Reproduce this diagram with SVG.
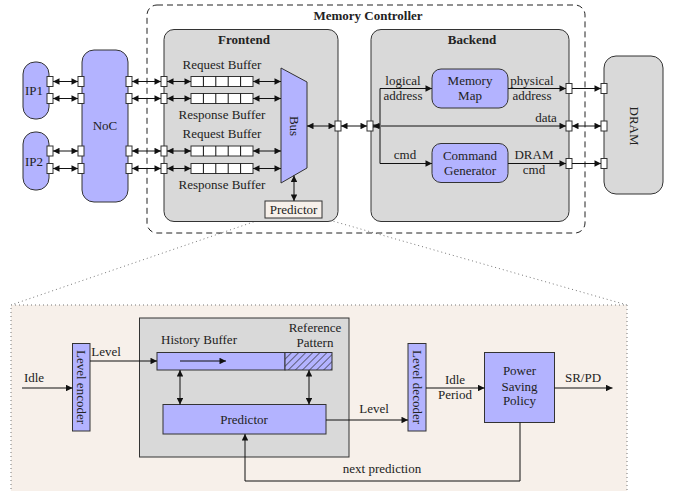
<svg xmlns="http://www.w3.org/2000/svg" width="675" height="491" viewBox="0 0 675 491" font-family="'Liberation Serif', 'Times New Roman', serif">
<defs>
<marker id="ah" viewBox="0 0 10 10" refX="10" refY="5" markerWidth="8" markerHeight="6.5" markerUnits="userSpaceOnUse" orient="auto-start-reverse"><path d="M0,0 L10,5 L0,10 z" fill="#111"/></marker>
<pattern id="hatch" width="5" height="5" patternUnits="userSpaceOnUse" patternTransform="rotate(45)"><rect width="5" height="5" fill="#b3b3ff"/><line x1="0" y1="0" x2="0" y2="5" stroke="#222" stroke-width="1.2"/></pattern>
<style>
text{font-family:"Liberation Serif","Times New Roman",serif;font-size:13px;fill:#222;text-anchor:middle}
.b{font-weight:bold}
.node{fill:#b3b3ff;stroke:#333;stroke-width:1}
.gray{fill:#d9d9d9;stroke:#333;stroke-width:1}
.port{fill:#fff;stroke:#333;stroke-width:1}
.cell{fill:#fff;stroke:#333;stroke-width:1}
.w{stroke:#111;stroke-width:1;fill:none}
.s{stroke:#111;stroke-width:1;fill:none;marker-end:url(#ah)}
.d{stroke:#111;stroke-width:1;fill:none;marker-end:url(#ah);marker-start:url(#ah)}
.dot{stroke:#777;stroke-width:1;fill:none;stroke-dasharray:1,3}
</style>
</defs>

<g id="zoom-links">
<line class="dot" x1="265" y1="218" x2="11" y2="305"/>
<line class="dot" x1="322" y1="218" x2="627" y2="305"/>
</g>
<g id="detail-panel"><rect x="11" y="305" width="616" height="190" fill="#f7f0ea" stroke="#777" stroke-dasharray="1,3"/></g>

<g id="memory-controller">
<rect x="147" y="5" width="438" height="228" rx="10" fill="none" stroke="#222" stroke-dasharray="6,4"/>
<text class="b" x="368" y="20">Memory Controller</text>
</g>
<g id="frontend">
<rect class="gray" x="164" y="29.5" width="174" height="192" rx="10"/>
<text class="b" x="244" y="43.5">Frontend</text>
<text x="222" y="68.5">Request Buffer</text>
<text x="222" y="118.5">Response Buffer</text>
<text x="222" y="137.5">Request Buffer</text>
<text x="222" y="188.5">Response Buffer</text>
</g>
<g id="backend">
<rect class="gray" x="371" y="29.5" width="198" height="192" rx="10"/>
<text class="b" x="472" y="43.5">Backend</text>
</g>
<g id="ip1"><rect class="node" x="23" y="62" width="26" height="57" rx="12"/><text x="34" y="95">IP1</text></g>
<g id="ip2"><rect class="node" x="23" y="132" width="26" height="58" rx="12"/><text x="34" y="166">IP2</text></g>
<g id="noc"><rect class="node" x="82" y="50" width="46" height="152" rx="12"/><text x="105" y="130">NoC</text></g>
<g id="dram"><rect class="gray" x="604" y="56" width="59" height="138" rx="12"/><text transform="translate(634,126) rotate(90)" y="4.5">DRAM</text></g>

<g id="buffers">
<g id="buf1"><rect class="cell" x="191" y="76.5" width="62" height="10"/><path class="w" d="M203.4,76.5v10M215.8,76.5v10M228.2,76.5v10M240.6,76.5v10"/></g>
<g id="buf2"><rect class="cell" x="191" y="93.5" width="62" height="10"/><path class="w" d="M203.4,93.5v10M215.8,93.5v10M228.2,93.5v10M240.6,93.5v10"/></g>
<g id="buf3"><rect class="cell" x="191" y="146" width="62" height="10"/><path class="w" d="M203.4,146v10M215.8,146v10M228.2,146v10M240.6,146v10"/></g>
<g id="buf4"><rect class="cell" x="191" y="163.5" width="62" height="10"/><path class="w" d="M203.4,163.5v10M215.8,163.5v10M228.2,163.5v10M240.6,163.5v10"/></g>
</g>
<g id="bus"><polygon class="node" points="281,68 307,82 307,168 281,183"/><text transform="translate(294,126) rotate(90)" y="4.5">Bus</text></g>
<g id="predictor-top"><rect x="265" y="201" width="57" height="17" fill="#f7f0ea" stroke="#333"/><text x="293.5" y="214">Predictor</text></g>
<g id="memory-map"><rect class="node" x="432" y="69" width="76" height="39" rx="9"/><text x="470" y="85">Memory</text><text x="470" y="100">Map</text></g>
<g id="command-generator"><rect class="node" x="432" y="143.5" width="76" height="39" rx="9"/><text x="470" y="160">Command</text><text x="470" y="175">Generator</text></g>

<g id="ports">
<rect class="port" x="47" y="76.5" width="6" height="10"/><rect class="port" x="47" y="93.5" width="6" height="10"/>
<rect class="port" x="47" y="146" width="6" height="10"/><rect class="port" x="47" y="163.5" width="6" height="10"/>
<rect class="port" x="78" y="76.5" width="6" height="10"/><rect class="port" x="78" y="93.5" width="6" height="10"/>
<rect class="port" x="78" y="146" width="6" height="10"/><rect class="port" x="78" y="163.5" width="6" height="10"/>
<rect class="port" x="126" y="76.5" width="6" height="10"/><rect class="port" x="126" y="93.5" width="6" height="10"/>
<rect class="port" x="126" y="146" width="6" height="10"/><rect class="port" x="126" y="163.5" width="6" height="10"/>
<rect class="port" x="161" y="76.5" width="6" height="10"/><rect class="port" x="161" y="93.5" width="6" height="10"/>
<rect class="port" x="161" y="146" width="6" height="10"/><rect class="port" x="161" y="163.5" width="6" height="10"/>
<rect class="port" x="335" y="121" width="6" height="10"/><rect class="port" x="367" y="121" width="6" height="10"/>
<rect class="port" x="566" y="83.5" width="6" height="10"/><rect class="port" x="566" y="121" width="6" height="10"/><rect class="port" x="566" y="158.5" width="6" height="10"/>
<rect class="port" x="601" y="83.5" width="6" height="10"/><rect class="port" x="601" y="121" width="6" height="10"/><rect class="port" x="601" y="158.5" width="6" height="10"/>
</g>

<g id="connectors">
<line class="d" x1="53" y1="81.5" x2="78" y2="81.5"/><line class="d" x1="53" y1="98.5" x2="78" y2="98.5"/>
<line class="d" x1="53" y1="151" x2="78" y2="151"/><line class="d" x1="53" y1="168.5" x2="78" y2="168.5"/>
<line class="d" x1="132" y1="81.5" x2="161" y2="81.5"/><line class="d" x1="132" y1="98.5" x2="161" y2="98.5"/>
<line class="d" x1="132" y1="151" x2="161" y2="151"/><line class="d" x1="132" y1="168.5" x2="161" y2="168.5"/>
<line class="d" x1="167" y1="81.5" x2="191" y2="81.5"/><line class="d" x1="167" y1="98.5" x2="191" y2="98.5"/>
<line class="d" x1="167" y1="151" x2="191" y2="151"/><line class="d" x1="167" y1="168.5" x2="191" y2="168.5"/>
<line class="d" x1="253" y1="81.5" x2="281" y2="81.5"/><line class="d" x1="253" y1="98.5" x2="281" y2="98.5"/>
<line class="d" x1="253" y1="151" x2="281" y2="151"/><line class="d" x1="253" y1="168.5" x2="281" y2="168.5"/>
<line class="d" x1="307" y1="126" x2="335" y2="126"/>
<line class="d" x1="341" y1="126" x2="367" y2="126"/>
<line class="d" x1="294" y1="175.5" x2="294" y2="201"/>
<line class="d" x1="373" y1="126" x2="566" y2="126"/>
<polyline class="s" points="373,125 380,125 380,88.5 432,88.5"/>
<polyline class="s" points="373,127 380,127 380,163.5 432,163.5"/>
<line class="s" x1="508" y1="88.5" x2="566" y2="88.5"/>
<line class="s" x1="508" y1="163.5" x2="566" y2="163.5"/>
<line class="s" x1="572" y1="88.5" x2="601" y2="88.5"/>
<line class="d" x1="572" y1="126" x2="601" y2="126"/>
<line class="s" x1="572" y1="163.5" x2="601" y2="163.5"/>
</g>
<g id="backend-labels">
<text x="403" y="85">logical</text><text x="403" y="100">address</text>
<text x="532" y="85">physical</text><text x="532" y="100">address</text>
<text x="546" y="121.5">data</text>
<text x="405" y="159">cmd</text>
<text x="534" y="159">DRAM</text><text x="534" y="174">cmd</text>
</g>

<g id="predictor-unit"><rect class="gray" x="139.5" y="318" width="209.5" height="139"/></g>
<g id="level-encoder"><rect class="node" x="72.5" y="343.5" width="17.5" height="87.5"/><text transform="translate(81,387) rotate(90)" y="4.5">Level encoder</text></g>
<g id="history-buffer"><rect class="node" x="157" y="352.5" width="128" height="17.5"/><text x="199" y="344">History Buffer</text></g>
<g id="reference-pattern"><rect x="285" y="352.5" width="47" height="17.5" fill="url(#hatch)" stroke="#333"/><text x="315" y="331.5">Reference</text><text x="315" y="347">Pattern</text></g>
<g id="predictor"><rect class="node" x="163" y="404.5" width="163" height="29.5"/><text x="244" y="424">Predictor</text></g>
<g id="level-decoder"><rect class="node" x="408" y="343.5" width="18" height="87.5"/><text transform="translate(417,387) rotate(90)" y="4.5">Level decoder</text></g>
<g id="power-saving-policy"><rect class="node" x="484.5" y="352.5" width="70" height="70"/><text x="519.5" y="375">Power</text><text x="519.5" y="390.5">Saving</text><text x="519.5" y="405">Policy</text></g>

<g id="detail-connectors">
<line class="s" x1="22" y1="388" x2="72.5" y2="388"/>
<line class="s" x1="90" y1="361" x2="157" y2="361"/>
<line class="s" x1="180" y1="361" x2="226" y2="361"/>
<line class="d" x1="180" y1="370" x2="180" y2="404.5"/>
<line class="d" x1="309" y1="370" x2="309" y2="404.5"/>
<line class="s" x1="326" y1="420" x2="408" y2="420"/>
<line class="s" x1="426" y1="388" x2="484.5" y2="388"/>
<line class="s" x1="554.5" y1="388" x2="612.5" y2="388"/>
<polyline class="s" points="520,422.5 520,481 245,481 245,434"/>
</g>
<g id="detail-labels">
<text x="34" y="382">Idle</text>
<text x="106" y="355.5">Level</text>
<text x="374" y="413">Level</text>
<text x="455" y="384">Idle</text><text x="455" y="399">Period</text>
<text x="583" y="381.5">SR/PD</text>
<text x="382" y="473">next prediction</text>
</g>
</svg>
